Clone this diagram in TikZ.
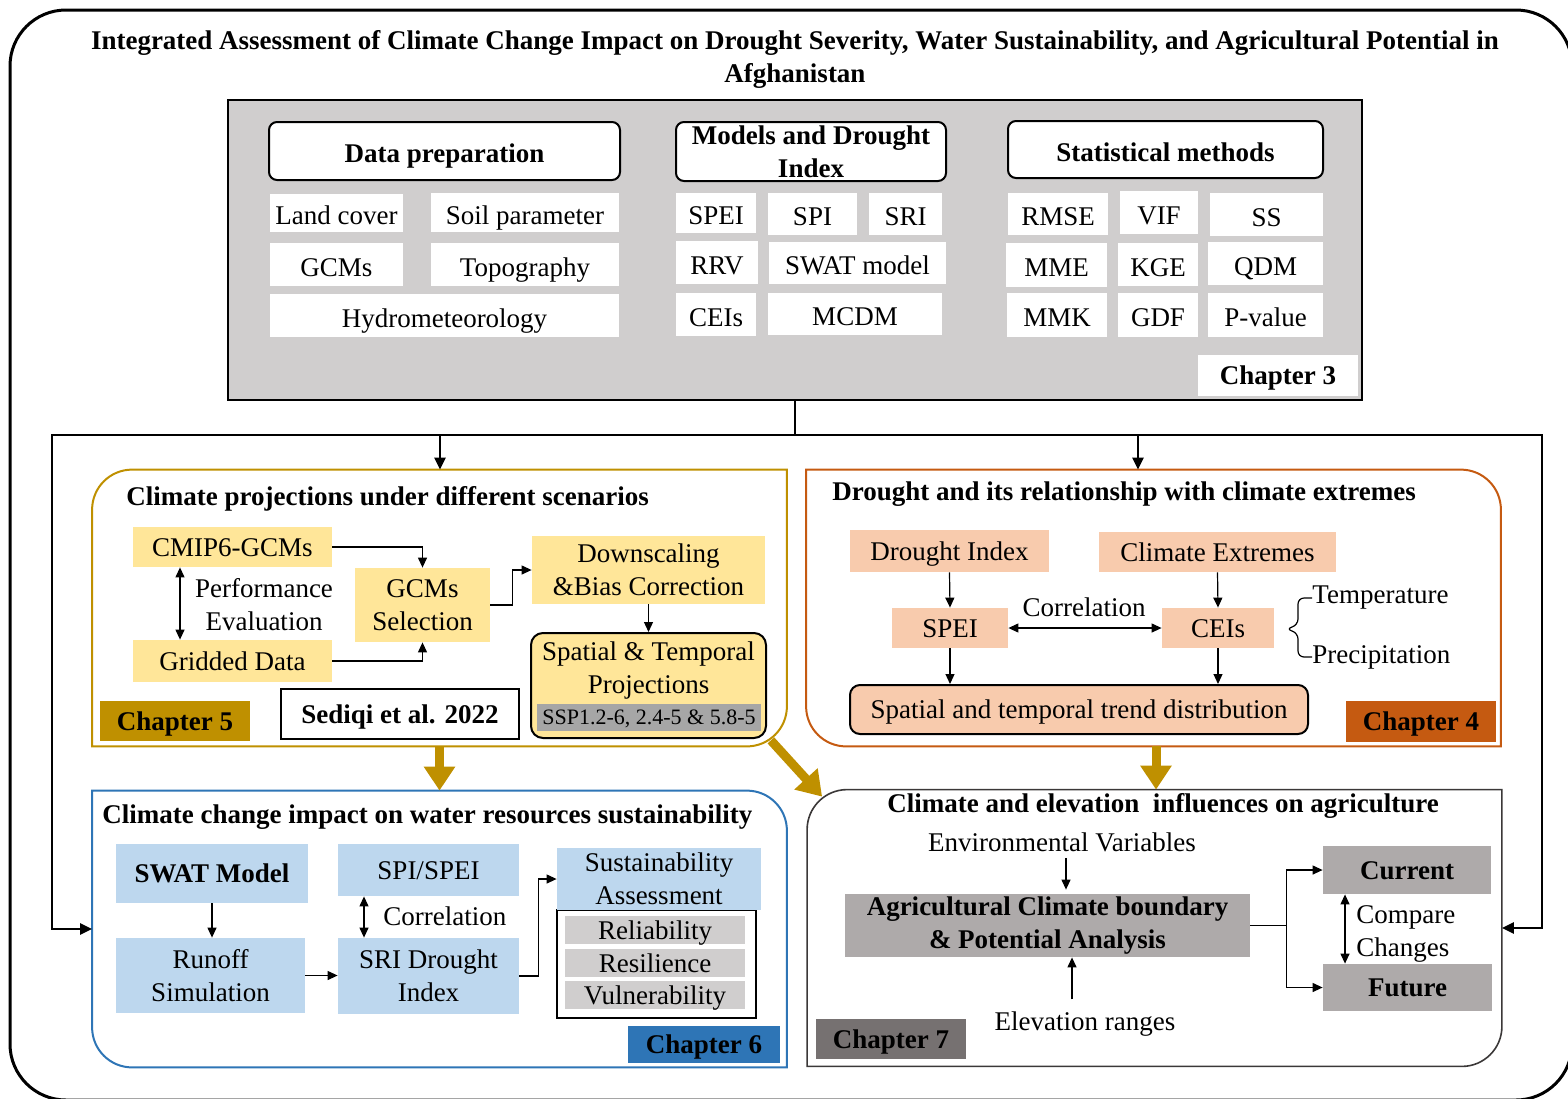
\documentclass[tikz,border=0pt]{standalone}
\usepackage{fontspec}
\setmainfont{Liberation Serif}
\usetikzlibrary{arrows.meta,positioning}

\definecolor{boxgray}{HTML}{D0CECE}
\definecolor{gold}{HTML}{BF9000}
\definecolor{lightgold}{HTML}{FFE699}
\definecolor{peach}{HTML}{F8CBAD}
\definecolor{rust}{HTML}{C55A11}
\definecolor{skyblue}{HTML}{BDD7EE}
\definecolor{midblue}{HTML}{2E75B6}
\definecolor{stone}{HTML}{AEAAAA}
\definecolor{darkstone}{HTML}{767171}
\definecolor{sspgray}{HTML}{A6A6A6}
\definecolor{panelgray}{HTML}{3B3838}

\tikzset{
    cell/.style = {inner sep = 0pt, text height = 10pt, text depth = 1pt},
    wcell/.style = {cell, fill = white, text height = 12.5pt},
    block/.style = {inner sep = 0pt, align = center},
    title/.style = {inner sep = 0pt, font = \bfseries},
    header/.style = {draw, line width = 1pt, rounded corners = 4pt, fill = white, inner sep = 0pt, align = center, font = \bfseries},
    chapter/.style = {cell, font = \bfseries},
    yellowbox/.style = {fill = lightgold},
    peachbox/.style = {fill = peach},
    bluebox/.style = {fill = skyblue},
    stonebox/.style = {fill = stone},
    panel/.style = {inner sep = 0pt, minimum width = 347pt, minimum height = 138pt},
    arr/.style = {line width = 0.6pt, -{Triangle[length = 5pt, width = 4.5pt]}},
    dblarr/.style = {line width = 0.6pt, {Triangle[length = 5pt, width = 4.5pt]}-{Triangle[length = 5pt, width = 4.5pt]}},
    linkarr/.style = {line width = 1.2pt, -{Triangle[length = 6pt, width = 5.5pt]}},
    goldarr/.style = {gold, line width = 4.5pt, -{Triangle[length = 12pt, width = 15pt]}},
}

\begin{document}
\fontsize{13.5}{16.5}\selectfont
\begin{tikzpicture}[x = 0.5pt, y = -0.5pt]
    \useasboundingbox (0,0) rectangle (1568,1098);
    \draw[line width = 1.5pt, rounded corners = 28pt] (10,10) rectangle (1572,1100);
    \node[title, align = center] (head) at (795,59.5) {Integrated Assessment of Climate Change Impact on Drought Severity, Water Sustainability, and Agricultural Potential in\\Afghanistan};

    % chapter 3: methods
    \node[draw, line width = 1pt, fill = boxgray, inner sep = 0pt, minimum width = 567pt, minimum height = 150pt] (ch3) at (795,250) {};
    \node[header, text height = 12pt, text depth = 0.5pt, minimum width = 175.5pt, minimum height = 29pt] (prep) at (444.5,151) {Data preparation};
    \node[header, minimum width = 135pt, minimum height = 29.5pt] (models) at (811,151.5) {Models and Drought\\Index};
    \node[header, text height = 12pt, text depth = 0.5pt, minimum width = 157.5pt, minimum height = 28.5pt] (stats) at (1165.5,149.5) {Statistical methods};

    \node[wcell, minimum width = 66.5pt, minimum height = 19pt] (land) at (336.5,213) {Land cover};
    \node[wcell, minimum width = 94pt, minimum height = 19.5pt] (soil) at (525,212.5) {Soil parameter};
    \node[wcell, minimum width = 66.5pt, minimum height = 21.5pt] (gcm) at (336.5,264.5) {GCMs};
    \node[wcell, minimum width = 94pt, minimum height = 21.5pt] (topo) at (525,264.5) {Topography};
    \node[wcell, minimum width = 174.5pt, minimum height = 21.5pt] (hydro) at (444.5,315.5) {Hydrometeorology};

    \node[wcell, minimum width = 40pt, minimum height = 20pt] (spei) at (716,213) {SPEI};
    \node[wcell, minimum width = 44.5pt, minimum height = 21pt] (spi) at (812.5,214) {SPI};
    \node[wcell, minimum width = 36.5pt, minimum height = 21pt] (sri) at (905.5,214) {SRI};
    \node[wcell, minimum width = 41pt, minimum height = 21.5pt] (rrv) at (717,262.5) {RRV};
    \node[wcell, minimum width = 88.5pt, minimum height = 21pt] (swat) at (857.5,263) {SWAT model};
    \node[wcell, minimum width = 40pt, minimum height = 21.5pt] (ceis) at (716,314.5) {CEIs};
    \node[wcell, minimum width = 87pt, minimum height = 21pt] (mcdm) at (855,314) {MCDM};

    \node[wcell, minimum width = 50pt, minimum height = 21pt] (rmse) at (1058,214) {RMSE};
    \node[wcell, minimum width = 39pt, minimum height = 21.5pt] (vif) at (1159,212.5) {VIF};
    \node[wcell, minimum width = 56.5pt, minimum height = 21.5pt] (ss) at (1266.5,214.5) {SS};
    \node[wcell, minimum width = 50.5pt, minimum height = 22pt] (mme) at (1056.5,265) {MME};
    \node[wcell, minimum width = 40pt, minimum height = 21.5pt] (kge) at (1158,264.5) {KGE};
    \node[wcell, minimum width = 57.5pt, minimum height = 21.5pt] (qdm) at (1265.5,263.5) {QDM};
    \node[wcell, minimum width = 50pt, minimum height = 22pt] (mmk) at (1057,315) {MMK};
    \node[wcell, minimum width = 40pt, minimum height = 22pt] (gdf) at (1158,315) {GDF};
    \node[wcell, minimum width = 57.5pt, minimum height = 22pt] (pval) at (1265.5,315) {P-value};
    \node[chapter, fill = white, minimum width = 80pt, minimum height = 20.5pt] (chap3) at (1278,375.5) {Chapter 3};

    % the four chapter panels
    \node[panel] (p5) at (439.5,608) {};
    \node[panel] (p4) at (1153.5,608) {};
    \node[panel] (p6) at (439.5,929) {};
    \node[panel] (p7) at (1154.5,928) {};
    \draw[gold, line width = 1pt] (p5.south west) [rounded corners = 20pt] -- (p5.north west) [sharp corners] -- (p5.north east) [rounded corners = 20pt] -- (p5.south east) [sharp corners] -- cycle;
    \draw[rust, line width = 1pt] (p4.north west) [rounded corners = 20pt] -- (p4.north east) [sharp corners] -- (p4.south east) [rounded corners = 20pt] -- (p4.south west) [sharp corners] -- cycle;
    \draw[midblue, line width = 1pt] (p6.north west) [rounded corners = 20pt] -- (p6.north east) [sharp corners] -- (p6.south east) [rounded corners = 20pt] -- (p6.south west) [sharp corners] -- cycle;
    \draw[panelgray, line width = 0.8pt] (p7.south west) [rounded corners = 20pt] -- (p7.north west) [sharp corners] -- (p7.north east) [rounded corners = 20pt] -- (p7.south east) [sharp corners] -- cycle;

    % links from chapter 3
    \coordinate (split) at (795,435);
    \coordinate (leftend) at (52,435);
    \coordinate (rightend) at (1542,435);
    \coordinate (to5) at (440,435);
    \coordinate (to4) at (1138,435);
    \draw[line width = 1.2pt] (ch3.south) -- (split);
    \draw[linkarr] (split) -- (leftend) -- (leftend |- p6.west) -- (p6.west);
    \draw[linkarr] (split) -- (rightend) -- (rightend |- p7.east) -- (p7.east);
    \draw[linkarr] (to5) -- (to5 |- p5.north);
    \draw[linkarr] (to4) -- (to4 |- p4.north);

    % chapter 5: projections
    \node[title, anchor = west] (t5) at (126,499) {Climate projections under different scenarios};
    \node[cell, yellowbox, minimum width = 99.5pt, minimum height = 20pt] (cmip) at (232.5,547) {CMIP6-GCMs};
    \node[cell, yellowbox, minimum width = 99.5pt, minimum height = 21pt] (grid) at (232.5,661) {Gridded Data};
    \node[block, yellowbox, minimum width = 67.5pt, minimum height = 37pt] (gsel) at (422.5,605) {GCMs\\Selection};
    \node[block, yellowbox, minimum width = 116.5pt, minimum height = 34pt] (down) at (648.5,570) {Downscaling\\\&Bias Correction};
    \node[draw, line width = 1pt, rounded corners = 6pt, yellowbox, inner sep = 0pt, minimum width = 117.5pt, minimum height = 52.5pt] (proj) at (648.5,685.5) {};
    \node[block] (projtext) at (648.5,670) {Spatial \& Temporal\\Projections};
    \node[cell, fill = sspgray, minimum width = 112pt, minimum height = 13.5pt, font = \fontsize{11}{13}\selectfont, text height = 8pt] (ssp) at (649,717.5) {SSP1.2-6, 2.4-5 \& 5.8-5};
    \node[block] (perf) at (264,605) {Performance\\Evaluation};
    \node[chapter, fill = gold, minimum width = 75pt, minimum height = 20pt] (chap5) at (175,721) {Chapter 5};
    \node[chapter, draw, line width = 1pt, fill = white, minimum width = 119pt, minimum height = 25pt] (sediqi) at (400,714) {Sediqi et al. 2022};
    \draw[dblarr] (cmip.south -| 180,0) -- (grid.north -| 180,0);
    \draw[arr] (cmip.east) -| (gsel.north);
    \draw[arr] (grid.east) -| (gsel.south);
    \draw[arr] (gsel.east) -- ++(22,0) |- (down.west);
    \draw[arr] (down.south) -- (proj.north);

    % chapter 4: drought and extremes
    \node[title, anchor = west] (t4) at (832,494) {Drought and its relationship with climate extremes};
    \node[cell, peachbox, minimum width = 99.5pt, minimum height = 21pt] (dindex) at (949.5,551) {Drought Index};
    \node[cell, peachbox, minimum width = 118.5pt, minimum height = 20pt] (cext) at (1217.5,552) {Climate Extremes};
    \node[cell, peachbox, minimum width = 58pt, minimum height = 20pt] (spei4) at (950,628) {SPEI};
    \node[cell, peachbox, minimum width = 56pt, minimum height = 20pt] (cei4) at (1218,628) {CEIs};
    \node[cell, draw, line width = 1pt, rounded corners = 5pt, peachbox, minimum width = 229pt, minimum height = 24.5pt] (trend) at (1079,709.5) {Spatial and temporal trend distribution};
    \node[inner sep = 0pt] (corr4) at (1084,607) {Correlation};
    \node[inner sep = 0pt, anchor = west] (temp) at (1312,598) {Temperature};
    \node[inner sep = 0pt, anchor = west] (prec) at (1312,657) {Precipitation};
    \node[chapter, fill = rust, minimum width = 75pt, minimum height = 20.5pt] (chap4) at (1421,721.5) {Chapter 4};
    \draw[arr] (dindex.south) -- (spei4.north);
    \draw[arr] (cext.south) -- (cei4.north);
    \draw[arr] (spei4.south) -- (spei4.south |- trend.north);
    \draw[arr] (cei4.south) -- (cei4.south |- trend.north);
    \draw[dblarr] (spei4.east) -- (cei4.west);
    \draw[line width = 0.6pt, rounded corners = 3pt] (temp.west) -- ++(-14,0) -- ++(0,27) -- ++(-12,4) -- ++(12,4) -- (prec.west -| 1298,0) -- (prec.west);

    % chapter 6: water resources
    \node[title, anchor = west] (t6) at (102,817) {Climate change impact on water resources sustainability};
    \node[cell, bluebox, font = \bfseries, minimum width = 96pt, minimum height = 29.5pt] (swatm) at (212,873.5) {SWAT Model};
    \node[block, bluebox, minimum width = 94.5pt, minimum height = 37.5pt] (runoff) at (210.5,975.5) {Runoff\\Simulation};
    \node[cell, bluebox, minimum width = 90.5pt, minimum height = 26pt] (spispei) at (428.5,870) {SPI/SPEI};
    \node[block, bluebox, minimum width = 90.5pt, minimum height = 38pt] (sri6) at (428.5,976) {SRI Drought\\Index};
    \node[draw, line width = 1pt, fill = white, inner sep = 0pt, minimum width = 99.5pt, minimum height = 54pt] (rrvbox) at (656.5,964) {};
    \node[block, bluebox, minimum width = 102pt, minimum height = 31pt] (sust) at (659,879) {Sustainability\\Assessment};
    \node[cell, fill = boxgray, minimum width = 90pt, minimum height = 14pt] (rel) at (655,930) {Reliability};
    \node[cell, fill = boxgray, minimum width = 90pt, minimum height = 14pt] (res) at (655,963) {Resilience};
    \node[cell, fill = boxgray, minimum width = 90pt, minimum height = 14pt] (vul) at (655,995) {Vulnerability};
    \node[inner sep = 0pt, anchor = west] (corr6) at (383,916) {Correlation};
    \node[chapter, fill = midblue, minimum width = 76pt, minimum height = 18.5pt] (chap6) at (704,1044.5) {Chapter 6};
    \draw[arr] (swatm.south) -- (swatm.south |- runoff.north);
    \draw[dblarr] (spispei.south -| 364,0) -- (sri6.north -| 364,0);
    \draw[arr] (runoff.east) -- (runoff.east -| sri6.west);
    \draw[arr] (sri6.east) -- ++(19,0) |- (sust.west);

    % chapter 7: agriculture
    \node[title] (t7) at (1163,806) {Climate and elevation\ \ influences on agriculture};
    \node[inner sep = 0pt] (env) at (1062,842) {Environmental Variables};
    \node[block, stonebox, font = \bfseries, minimum width = 202.5pt, minimum height = 31.5pt] (agri) at (1047.5,925.5) {Agricultural Climate boundary\\\& Potential Analysis};
    \node[inner sep = 0pt] (elev) at (1085,1024) {Elevation ranges};
    \node[cell, stonebox, font = \bfseries, minimum width = 84pt, minimum height = 24pt] (current) at (1407,870) {Current};
    \node[cell, stonebox, font = \bfseries, minimum width = 84.5pt, minimum height = 23.5pt] (future) at (1407.5,987.5) {Future};
    \node[inner sep = 0pt, anchor = west, align = left] (cmp) at (1356,934) {Compare\\Changes};
    \node[chapter, fill = darkstone, minimum width = 75pt, minimum height = 20pt] (chap7) at (891,1039) {Chapter 7};
    \draw[arr, shorten < = 3pt, shorten > = 2pt] (env.south -| 1066,0) -- (agri.north -| 1066,0);
    \draw[arr, shorten < = 6pt] (elev.north -| 1072,0) -- (agri.south -| 1072,0);
    \draw[arr] (agri.east) -- ++(36,0) |- (current.west);
    \draw[arr] (agri.east) -- ++(36,0) |- (future.west);
    \draw[dblarr] (current.south -| 1345,0) -- (future.north -| 1345,0);

    % gold arrows between panels
    \draw[goldarr] (p5.south) -- (p6.north);
    \draw[goldarr] (p4.south -| 1156,0) -- (p7.north -| 1156,0);
    \draw[goldarr] ([xshift = -8pt, yshift = 3pt]p5.south east) -- ([xshift = 7.5pt, yshift = -3.5pt]p7.north west);
\end{tikzpicture}
\end{document}
